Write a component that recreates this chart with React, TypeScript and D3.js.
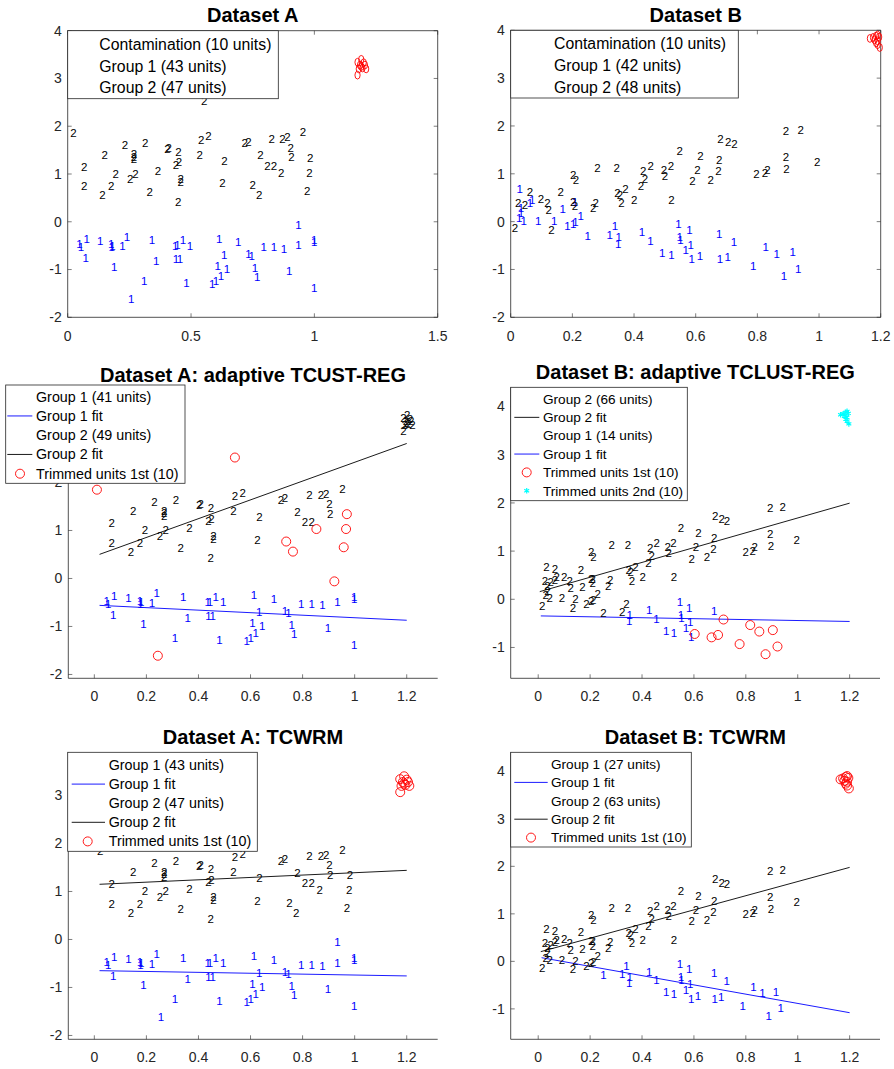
import React from 'react';
import * as d3 from 'd3';

type Pt = [number, number];

// ---- Dataset A ----
const aGroup1Kept: Pt[] = [
  [0.035, -0.47], [0.041, -0.53], [0.064, -0.36], [0.06, -0.76], [0.119, -0.4], [0.163, -0.47],
  [0.165, -0.53], [0.168, -0.5], [0.209, -0.51], [0.227, -0.31], [0.176, -0.95], [0.297, -1.23],
  [0.329, -0.38], [0.346, -0.83], [0.423, -0.5], [0.432, -0.48], [0.454, -0.38], [0.483, -0.5],
  [0.426, -0.78], [0.442, -0.78], [0.468, -1.28], [0.601, -0.35], [0.621, -0.69], [0.595, -0.92],
  [0.633, -0.99], [0.608, -1.13], [0.588, -1.23], [0.573, -1.3], [0.678, -0.42], [0.72, -0.67],
  [0.733, -0.71], [0.746, -0.97], [0.755, -1.16], [0.782, -0.53], [0.823, -0.53], [0.864, -0.56],
  [0.885, -1.03], [0.922, -0.49], [0.986, -0.38], [0.986, -0.43], [0.986, -1.39],
];
const aGroup1Cut: Pt[] = [[0.244, -1.61], [0.922, -0.06]];
const aGroup2Kept: Pt[] = [
  [0.528, 1.72], [0.558, 1.79], [0.941, 1.875], [0.705, 1.64], [0.72, 1.67], [0.814, 1.74],
  [0.858, 1.74], [0.878, 1.77], [0.891, 1.55], [0.894, 1.35], [0.797, 1.17], [0.823, 1.17],
  [0.768, 1.39], [0.614, 0.81], [0.622, 1.28], [0.522, 1.4], [0.391, 1.53], [0.396, 1.55],
  [0.436, 1.46], [0.426, 1.19], [0.438, 1.25], [0.445, 0.89], [0.445, 0.83], [0.435, 0.42],
  [0.319, 0.63], [0.353, 1.06], [0.301, 1.64], [0.219, 1.6], [0.256, 1.41], [0.256, 1.36],
  [0.256, 1.31], [0.137, 1.4], [0.054, 1.15], [0.054, 0.75], [0.128, 0.56], [0.163, 0.74],
  [0.182, 1.01], [0.24, 0.89], [0.262, 1.01],
];
const aGroup2Cut: Pt[] = [
  [0.01, 1.85], [0.54, 2.52], [0.737, 0.77], [0.763, 0.56], [0.853, 1.03], [0.958, 0.65],
  [0.967, 1.03], [0.97, 1.34],
];
const aContamination: Pt[] = [
  [1.175, 3.34], [1.19, 3.4], [1.2, 3.33], [1.185, 3.28], [1.195, 3.22], [1.21, 3.2],
  [1.18, 3.2], [1.19, 3.25], [1.205, 3.28], [1.175, 3.07],
];

// ---- Dataset B ----
const bGroup2: Pt[] = [
  [0.538, 1.485], [0.271, 1.13], [0.333, 1.12], [0.419, 1.06], [0.444, 1.17], [0.487, 1.08],
  [0.509, 1.17], [0.192, 0.98], [0.201, 0.875], [0.425, 0.89], [0.412, 0.75], [0.49, 0.96],
  [0.579, 0.84], [0.362, 0.68], [0.336, 0.6], [0.344, 0.56], [0.349, 0.39], [0.39, 0.46],
  [0.511, 0.46], [0.152, 0.61], [0.052, 0.63], [0.088, 0.47], [0.109, 0.39], [0.113, 0.235],
  [0.014, 0.39], [0.036, 0.355], [0.192, 0.42], [0.198, 0.33], [0.257, 0.285], [0.265, 0.4],
  [0.003, -0.13], [0.122, -0.17], [0.882, 1.9], [0.93, 1.92], [0.67, 1.73], [0.695, 1.66],
  [0.715, 1.62], [0.605, 1.38], [0.666, 1.28], [0.595, 1.08], [0.663, 1.05], [0.638, 0.875],
  [0.787, 0.99], [0.814, 1.01], [0.822, 1.08], [0.882, 1.36], [0.884, 1.1], [0.984, 1.24],
];
const bGroup1Low: Pt[] = [
  [0.019, 0.68], [0.059, 0.46], [0.052, 0.4], [0.023, 0.285], [0.023, 0.18], [0.017, 0.08],
  [0.032, 0.02], [0.079, 0.02], [0.131, 0.01], [0.158, 0.26], [0.174, -0.1], [0.192, -0.04],
  [0.2, -0.015], [0.217, 0.11], [0.198, 0.42],
];
const bGroup1Mid: Pt[] = [[0.239, -0.29], [0.311, -0.27], [0.328, -0.1]];
const bGroup1Core: Pt[] = [
  [0.34, -0.32], [0.338, -0.46], [0.415, -0.22], [0.443, -0.4], [0.481, -0.65], [0.511, -0.69],
  [0.534, -0.05], [0.538, -0.32], [0.54, -0.39], [0.569, -0.17], [0.573, -0.48], [0.557, -0.6],
  [0.577, -0.79], [0.666, -0.25],
];
const bGroup1Tail: Pt[] = [
  [0.603, -0.72], [0.714, -0.42], [0.668, -0.79], [0.693, -0.74], [0.817, -0.535], [0.852, -0.67],
  [0.904, -0.64], [0.776, -0.93], [0.876, -1.14], [0.922, -0.98],
];
const bContamination: Pt[] = [
  [1.165, 3.83], [1.175, 3.85], [1.185, 3.88], [1.19, 3.9], [1.195, 3.86], [1.18, 3.8],
  [1.19, 3.78], [1.185, 3.74], [1.19, 3.7], [1.197, 3.64],
];

// fitted lines: [intercept, slope]
const fitAAdaptive1 = [-0.555, -0.263];
const fitAAdaptive2 = [0.463, 1.958];
const fitATcwrm1 = [-0.648, -0.093];
const fitATcwrm2 = [1.145, 0.246];
const fitBAdaptive1 = [-0.344, -0.097];
const fitBAdaptive2 = [0.15, 1.538];
const fitBTcwrm1 = [0.09, -0.975];
const fitBTcwrm2 = [0.19, 1.49];

const ticksHalf = [0, 0.5, 1, 1.5];
const ticksFifth = [0, 0.2, 0.4, 0.6, 0.8, 1, 1.2];
const ticksYFull = [-2, -1, 0, 1, 2, 3, 4];
const ticksYA = [-2, -1, 0, 1, 2, 3];
const ticksYB = [-1, 0, 1, 2, 3, 4];

const FONT = '"Liberation Sans", Arial, Helvetica, sans-serif';
const AX = '#262626';

type Kind = 'one' | 'two' | 'circle' | 'ellipse' | 'star';
type Icon = 'none' | 'blue' | 'black' | 'circle' | 'star';

interface Panel {
  title: string; titleY: number;
  left: number; right: number; top: number; bottom: number;
  xDom: [number, number]; yDom: [number, number];
  xTicks: number[]; yTicks: number[]; box: boolean; labelOff: number;
  layers: { pts: Pt[]; kind: Kind }[];
  fits: { coef: number[]; color: string; from: number; to: number }[];
  legend: {
    x: number; y: number; w: number; h: number; textX: number; l0: number; l1: number;
    mx: number; row0: number; step: number; size: number; items: { label: string; icon: Icon }[];
  };
}

const units = (name: string, n: number) => `${name} (${n} units)`;
const aGroup1 = [...aGroup1Kept, ...aGroup1Cut];
const aGroup2 = [...aGroup2Kept, ...aGroup2Cut];
const bGroup1 = [...bGroup1Low, ...bGroup1Mid, ...bGroup1Core, ...bGroup1Tail];

const panels: Panel[] = [
  {
    title: 'Dataset A', titleY: 15, left: 67.7, right: 437.7, top: 30.7, bottom: 317.3,
    xDom: [0, 1.5], yDom: [-2, 4], xTicks: ticksHalf, yTicks: ticksYFull, box: true, labelOff: 18.7,
    layers: [
      { pts: aContamination, kind: 'ellipse' },
      { pts: aGroup1, kind: 'one' },
      { pts: aGroup2, kind: 'two' },
    ],
    fits: [],
    legend: {
      x: 67.7, y: 30.7, w: 210.6, h: 68, textX: 99.3, l0: 0, l1: 0, mx: 0, row0: 44.3, step: 21.7, size: 15.8,
      items: [
        { label: units('Contamination', aContamination.length), icon: 'none' },
        { label: units('Group 1', aGroup1.length), icon: 'none' },
        { label: units('Group 2', aGroup2.length), icon: 'none' },
      ],
    },
  },
  {
    title: 'Dataset B', titleY: 15, left: 510.7, right: 880.7, top: 30.3, bottom: 317.3,
    xDom: [0, 1.2], yDom: [-2, 4], xTicks: ticksFifth, yTicks: ticksYFull, box: true, labelOff: 18.7,
    layers: [
      { pts: bContamination, kind: 'ellipse' },
      { pts: bGroup1, kind: 'one' },
      { pts: bGroup2, kind: 'two' },
    ],
    fits: [],
    legend: {
      x: 510.7, y: 30.3, w: 227.6, h: 67.7, textX: 554, l0: 0, l1: 0, mx: 0, row0: 43, step: 22, size: 15.8,
      items: [
        { label: units('Contamination', bContamination.length), icon: 'none' },
        { label: units('Group 1', bGroup1.length), icon: 'none' },
        { label: units('Group 2', bGroup2.length), icon: 'none' },
      ],
    },
  },
  {
    title: 'Dataset A: adaptive TCUST-REG', titleY: 375, left: 68.3, right: 437.7, top: 391.3, bottom: 678.3,
    xDom: [-0.1, 1.319], yDom: [-2.08, 3.9], xTicks: ticksFifth, yTicks: ticksYA, box: false, labelOff: 17.7,
    layers: [
      { pts: aGroup1Kept, kind: 'one' },
      { pts: [...aGroup2Kept, ...aContamination], kind: 'two' },
      { pts: [...aGroup1Cut, ...aGroup2Cut], kind: 'circle' },
    ],
    fits: [
      { coef: fitAAdaptive1, color: '#0000ff', from: 0.02, to: 1.2 },
      { coef: fitAAdaptive2, color: '#000000', from: 0.02, to: 1.2 },
    ],
    legend: {
      x: 5.7, y: 385, w: 179.3, h: 98.3, textX: 36, l0: 7.3, l1: 32.3, mx: 20, row0: 396.7, step: 19.25, size: 14.3,
      items: [
        { label: units('Group 1', aGroup1Kept.length), icon: 'none' },
        { label: 'Group 1 fit', icon: 'blue' },
        { label: units('Group 2', aGroup2Kept.length + aContamination.length), icon: 'none' },
        { label: 'Group 2 fit', icon: 'black' },
        { label: `Trimmed units 1st (${aGroup1Cut.length + aGroup2Cut.length})`, icon: 'circle' },
      ],
    },
  },
  {
    title: 'Dataset B: adaptive TCLUST-REG', titleY: 371.7, left: 510.7, right: 880, top: 387.3, bottom: 678.3,
    xDom: [-0.106, 1.317], yDom: [-1.64, 4.4], xTicks: ticksFifth, yTicks: ticksYB, box: false, labelOff: 17.7,
    layers: [
      { pts: bGroup1Core, kind: 'one' },
      { pts: [...bGroup2, ...bGroup1Low, ...bGroup1Mid], kind: 'two' },
      { pts: bGroup1Tail, kind: 'circle' },
      { pts: bContamination, kind: 'star' },
    ],
    fits: [
      { coef: fitBAdaptive2, color: '#000000', from: 0.006, to: 1.2 },
      { coef: fitBAdaptive1, color: '#0000ff', from: 0.01, to: 1.2 },
    ],
    legend: {
      x: 510.7, y: 387.3, w: 176.6, h: 113.4, textX: 543, l0: 514.3, l1: 539.3, mx: 526.7, row0: 399, step: 18.35, size: 13.6,
      items: [
        { label: units('Group 2', bGroup2.length + bGroup1Low.length + bGroup1Mid.length), icon: 'none' },
        { label: 'Group 2 fit', icon: 'black' },
        { label: units('Group 1', bGroup1Core.length), icon: 'none' },
        { label: 'Group 1 fit', icon: 'blue' },
        { label: `Trimmed units 1st (${bGroup1Tail.length})`, icon: 'circle' },
        { label: `Trimmed units 2nd (${bContamination.length})`, icon: 'star' },
      ],
    },
  },
  {
    title: 'Dataset A: TCWRM', titleY: 736.7, left: 68.3, right: 437.7, top: 752.3, bottom: 1039.3,
    xDom: [-0.1, 1.319], yDom: [-2.08, 3.9], xTicks: ticksFifth, yTicks: ticksYA, box: false, labelOff: 17.7,
    layers: [
      { pts: aGroup1, kind: 'one' },
      { pts: aGroup2, kind: 'two' },
      { pts: aContamination, kind: 'circle' },
    ],
    fits: [
      { coef: fitATcwrm1, color: '#0000ff', from: 0.02, to: 1.2 },
      { coef: fitATcwrm2, color: '#000000', from: 0.02, to: 1.2 },
    ],
    legend: {
      x: 67.7, y: 752.3, w: 189.6, h: 99, textX: 108.7, l0: 71.7, l1: 105, mx: 87.7, row0: 765, step: 19.1, size: 14.3,
      items: [
        { label: units('Group 1', aGroup1.length), icon: 'none' },
        { label: 'Group 1 fit', icon: 'blue' },
        { label: units('Group 2', aGroup2.length), icon: 'none' },
        { label: 'Group 2 fit', icon: 'black' },
        { label: `Trimmed units 1st (${aContamination.length})`, icon: 'circle' },
      ],
    },
  },
  {
    title: 'Dataset B: TCWRM', titleY: 736.7, left: 510.7, right: 880, top: 752.3, bottom: 1039.3,
    xDom: [-0.106, 1.317], yDom: [-1.64, 4.4], xTicks: ticksFifth, yTicks: ticksYB, box: false, labelOff: 17.7,
    layers: [
      { pts: [...bGroup1Mid, ...bGroup1Core, ...bGroup1Tail], kind: 'one' },
      { pts: [...bGroup2, ...bGroup1Low], kind: 'two' },
      { pts: bContamination, kind: 'circle' },
    ],
    fits: [
      { coef: fitBTcwrm1, color: '#0000ff', from: 0.013, to: 1.2 },
      { coef: fitBTcwrm2, color: '#000000', from: 0.01, to: 1.2 },
    ],
    legend: {
      x: 510.7, y: 752.3, w: 180.6, h: 94.7, textX: 551, l0: 514.3, l1: 547.7, mx: 531, row0: 764, step: 18.4, size: 13.6,
      items: [
        { label: units('Group 1', bGroup1Mid.length + bGroup1Core.length + bGroup1Tail.length), icon: 'none' },
        { label: 'Group 1 fit', icon: 'blue' },
        { label: units('Group 2', bGroup2.length + bGroup1Low.length), icon: 'none' },
        { label: 'Group 2 fit', icon: 'black' },
        { label: `Trimmed units 1st (${bContamination.length})`, icon: 'circle' },
      ],
    },
  },
];

const star = d3.symbol().type(d3.symbolAsterisk).size(22)() || '';
const fmt = (v: number) => String(+v.toFixed(2));

function Mark({ kind, cx, cy }: { kind: Kind; cx: number; cy: number }) {
  if (kind === 'one' || kind === 'two') {
    return (
      <text x={cx} y={cy} dy="0.35em" fontSize={11.5} fill={kind === 'one' ? '#0000ff' : '#000000'}>
        {kind === 'one' ? '1' : '2'}
      </text>
    );
  }
  if (kind === 'ellipse') return <ellipse cx={cx} cy={cy} rx={2.6} ry={3.9} fill="none" stroke="#ff0000" strokeWidth={0.9} />;
  if (kind === 'circle') return <circle cx={cx} cy={cy} r={4.5} fill="none" stroke="#ff0000" strokeWidth={0.9} />;
  return <path d={star} transform={`translate(${cx},${cy})`} stroke="#00ffff" strokeWidth={1.2} fill="none" />;
}

function PanelView({ p }: { p: Panel }) {
  const x = d3.scaleLinear().domain(p.xDom).range([p.left, p.right]);
  const y = d3.scaleLinear().domain(p.yDom).range([p.bottom, p.top]);
  const lg = p.legend;
  return (
    <g fontFamily={FONT}>
      <text x={(p.left + p.right) / 2} y={p.titleY} dy="0.35em" textAnchor="middle" fontSize={20} fontWeight="bold" fill="#000">
        {p.title}
      </text>
      {p.xTicks.map(t => (
        <g key={'x' + t}>
          <line x1={x(t)} x2={x(t)} y1={p.bottom} y2={p.bottom - 4} stroke={AX} strokeWidth={0.6} />
          {p.box && <line x1={x(t)} x2={x(t)} y1={p.top} y2={p.top + 4} stroke={AX} strokeWidth={0.6} />}
          <text x={x(t)} y={p.bottom + p.labelOff} dy="0.35em" textAnchor="middle" fontSize={14} fill={AX}>{fmt(t)}</text>
        </g>
      ))}
      {p.yTicks.map(t => (
        <g key={'y' + t}>
          <line x1={p.left} x2={p.left + 4} y1={y(t)} y2={y(t)} stroke={AX} strokeWidth={0.6} />
          {p.box && <line x1={p.right} x2={p.right - 4} y1={y(t)} y2={y(t)} stroke={AX} strokeWidth={0.6} />}
          <text x={p.left - 6} y={y(t)} dy="0.35em" textAnchor="end" fontSize={14} fill={AX}>{fmt(t)}</text>
        </g>
      ))}
      <line x1={p.left} x2={p.right} y1={p.bottom} y2={p.bottom} stroke={AX} strokeWidth={0.8} />
      <line x1={p.left} x2={p.left} y1={p.top} y2={p.bottom} stroke={AX} strokeWidth={0.8} />
      {p.box && (
        <>
          <line x1={p.left} x2={p.right} y1={p.top} y2={p.top} stroke={AX} strokeWidth={0.8} />
          <line x1={p.right} x2={p.right} y1={p.top} y2={p.bottom} stroke={AX} strokeWidth={0.8} />
        </>
      )}
      {p.fits.map((f, i) => {
        const d = d3.line<number>().x(v => x(v)).y(v => y(f.coef[0] + f.coef[1] * v))([f.from, f.to]) || '';
        return <path key={'f' + i} d={d} stroke={f.color} strokeWidth={0.9} fill="none" />;
      })}
      {p.layers.map((layer, li) =>
        layer.pts.map((pt, i) => <Mark key={li + '-' + i} kind={layer.kind} cx={x(pt[0])} cy={y(pt[1])} />)
      )}
      <rect x={lg.x} y={lg.y} width={lg.w} height={lg.h} fill="#fff" stroke={AX} strokeWidth={0.8} />
      {lg.items.map((it, i) => {
        const cy = lg.row0 + i * lg.step;
        return (
          <g key={'l' + i}>
            {(it.icon === 'blue' || it.icon === 'black') && (
              <line x1={lg.l0} x2={lg.l1} y1={cy} y2={cy} stroke={it.icon === 'blue' ? '#0000ff' : '#000'} strokeWidth={0.9} />
            )}
            {it.icon === 'circle' && <circle cx={lg.mx} cy={cy} r={4.5} fill="none" stroke="#ff0000" strokeWidth={0.9} />}
            {it.icon === 'star' && <path d={star} transform={`translate(${lg.mx},${cy})`} stroke="#00ffff" strokeWidth={1.2} fill="none" />}
            <text x={lg.textX} y={cy} dy="0.35em" fontSize={lg.size} fill="#000">{it.label}</text>
          </g>
        );
      })}
    </g>
  );
}

export default function App() {
  return (
    <svg width={894} height={1069} style={{ position: 'absolute', left: 0, top: 0, background: '#fff' }}>
      <rect width={894} height={1069} fill="#fff" />
      {panels.map((p, i) => <PanelView key={i} p={p} />)}
    </svg>
  );
}
